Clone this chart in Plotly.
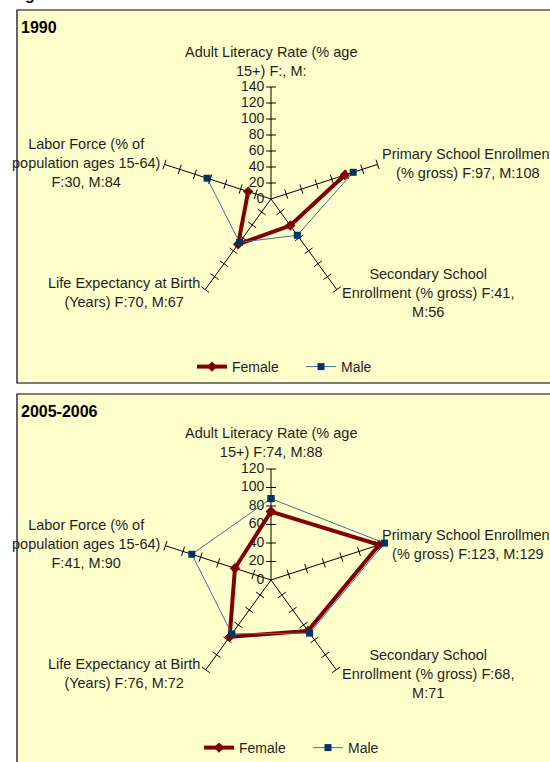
import plotly.graph_objects as go

# ---------------- data ----------------
categories = [
    "Adult Literacy Rate (% age 15+)",
    "Primary School Enrollment (% gross)",
    "Secondary School Enrollment (% gross)",
    "Life Expectancy at Birth (Years)",
    "Labor Force (% of population ages 15-64)",
]
# wrapped versions of category names (as in the original chart)
category_labels = [
    "Adult Literacy Rate (% age<br>15+)",
    "Primary School Enrollment<br>(% gross)",
    "Secondary School<br>Enrollment (% gross)",
    "Life Expectancy at Birth<br>(Years)",
    "Labor Force (% of<br>population ages 15-64)",
]
label_sep = [" ", " ", " ", " ", "<br>"]
value_sep = [", ", ", ", ",<br>", ", ", ", "]

female_1990 = [None, 97, 41, 70, 30]
male_1990 = [None, 108, 56, 67, 84]
female_2005 = [74, 123, 68, 76, 41]
male_2005 = [88, 129, 71, 72, 90]

ticks_1990 = [0, 20, 40, 60, 80, 100, 120, 140]
ticks_2005 = [0, 20, 40, 60, 80, 100, 120]

panel_titles = ["1990", "2005-2006"]

# ---------------- layout helpers ----------------
W, H = 550, 762
def px(x):
    return x / W
def py(y):
    return 1 - y / H

FONT = "Liberation Sans, Arial, sans-serif"
TXT = "#1e1e1e"
FEMALE_C = "#800000"
MALE_LINE_C = "#3F6F9F"
MALE_MARK_C = "#003366"

panels = [
    dict(title=panel_titles[0], female=female_1990, male=male_1990, ticks=ticks_1990,
         center=(271, 199), scale=0.80, rmax=140, box=(17, 10, 552, 383),
         title_y=27, legend_y=367, legend_x=192),
    dict(title=panel_titles[1], female=female_2005, male=male_2005, ticks=ticks_2005,
         center=(271, 580), scale=0.925, rmax=130, box=(17, 394, 552, 765),
         title_y=411, legend_y=748, legend_x=199),
]

# label offsets relative to chart centre (pixels)
label_offsets = [(0, -138), (197, -36), (157, 94), (-147, 93), (-185, -36)]

fig = go.Figure()
shapes = []
annotations = []
layout_extra = {}

n = len(categories)
for k, p in enumerate(panels):
    polar_name = "polar" if k == 0 else "polar2"
    sub = "polar" if k == 0 else "polar2"
    legend_name = "legend" if k == 0 else "legend2"
    cx, cy = p["center"]
    axis_max = p["ticks"][-1]
    R = p["rmax"] * p["scale"]

    # spokes
    for i, cat in enumerate(categories):
        fig.add_trace(go.Scatterpolar(
            r=[0, axis_max], theta=[cat, cat], mode="lines",
            line=dict(color="black", width=1), subplot=sub,
            showlegend=False, hoverinfo="skip"))
        theta_math = 90 - 360 / n * i
        tv = [t for t in p["ticks"] if t > 0]
        fig.add_trace(go.Scatterpolar(
            r=tv, theta=[cat] * len(tv), mode="markers",
            marker=dict(symbol="line-ns", size=7, angle=-theta_math,
                        line=dict(color="black", width=1), color="black"),
            subplot=sub, showlegend=False, hoverinfo="skip"))

    # radial tick labels along the first spoke
    fig.add_trace(go.Scatterpolar(
        r=p["ticks"], theta=[categories[0]] * len(p["ticks"]), mode="markers+text",
        marker=dict(size=9, color="rgba(0,0,0,0)"),
        text=[str(t) for t in p["ticks"]], textposition="middle left",
        textfont=dict(family=FONT, size=14, color=TXT), cliponaxis=False,
        subplot=sub, showlegend=False, hoverinfo="skip"))

    # data
    th = categories + [categories[0]]
    fig.add_trace(go.Scatterpolar(
        r=p["female"] + [p["female"][0]], theta=th, mode="lines+markers",
        name="Female", subplot=sub, legend=legend_name, connectgaps=False,
        cliponaxis=False,
        line=dict(color=FEMALE_C, width=4),
        marker=dict(symbol="diamond", size=8, color=FEMALE_C)))
    fig.add_trace(go.Scatterpolar(
        r=p["male"] + [p["male"][0]], theta=th, mode="lines+markers",
        name="Male", subplot=sub, legend=legend_name, connectgaps=False,
        cliponaxis=False,
        line=dict(color=MALE_LINE_C, width=1),
        marker=dict(symbol="square", size=7, color=MALE_MARK_C)))

    layout_extra[polar_name] = dict(
        domain=dict(x=[px(cx - R), px(cx + R)], y=[py(cy + R), py(cy - R)]),
        bgcolor="rgba(0,0,0,0)",
        radialaxis=dict(range=[0, p["rmax"]], angle=90, showticklabels=False,
                        showgrid=False, showline=False, ticks=""),
        angularaxis=dict(rotation=90, direction="clockwise", showgrid=False,
                         showline=False, showticklabels=False, ticks=""),
    )
    layout_extra[legend_name] = dict(
        orientation="h", x=px(p["legend_x"]), xanchor="left",
        y=py(p["legend_y"]), yanchor="middle", bgcolor="rgba(0,0,0,0)",
        font=dict(family=FONT, size=14, color=TXT), entrywidth=64,
        traceorder="normal")

    # panel box
    x0, y0, x1, y1 = p["box"]
    shapes.append(dict(type="rect", xref="paper", yref="paper",
                       x0=px(x0), x1=px(x1), y0=py(y1), y1=py(y0),
                       fillcolor="#FFFFCC", line=dict(color="black", width=1.2),
                       layer="below"))

    # title
    annotations.append(dict(text="<b>%s</b>" % p["title"], xref="paper", yref="paper",
                            x=px(19), y=py(p["title_y"]), xanchor="left", yanchor="middle",
                            showarrow=False, font=dict(family=FONT, size=16, color="black")))

    # category labels
    for i in range(n):
        fv = p["female"][i]
        mv = p["male"][i]
        txt = (category_labels[i] + label_sep[i] + "F:" + ("" if fv is None else str(fv))
               + value_sep[i] + "M:" + ("" if mv is None else str(mv)))
        dx, dy = label_offsets[i]
        annotations.append(dict(text=txt, xref="paper", yref="paper",
                                x=px(cx + dx), y=py(cy + dy), xanchor="center",
                                yanchor="middle", align="center", showarrow=False,
                                font=dict(family=FONT, size=14.5, color=TXT)))

# cropped heading remnant at the very top
annotations.append(dict(text="<b>g</b>", xref="paper", yref="paper", x=px(29.5),
                        y=py(-6), xanchor="center", yanchor="middle", showarrow=False,
                        font=dict(family=FONT, size=16, color="black")))

fig.update_layout(
    width=W, height=H, margin=dict(l=0, r=0, t=0, b=0, autoexpand=False),
    paper_bgcolor="white", plot_bgcolor="white",
    shapes=shapes, annotations=annotations,
    font=dict(family=FONT, size=14, color=TXT),
    **layout_extra,
)

fig.write_html("out.html", config={"displayModeBar": False},
               post_script="document.body.style.margin='0px';document.body.style.overflow='hidden';")
